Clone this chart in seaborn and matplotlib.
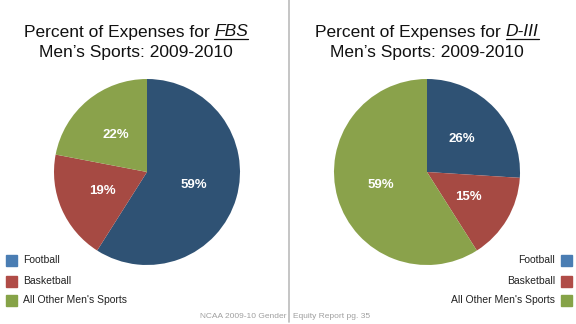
import matplotlib
matplotlib.use("Agg")
import matplotlib.pyplot as plt
from matplotlib.patches import Rectangle
from matplotlib.lines import Line2D
import seaborn as sns

sns.set_theme(style="white")
plt.rcParams['font.family'] = ['Liberation Sans', 'DejaVu Sans']

categories = ["Football", "Basketball", "All Other Men\u2019s Sports"]
legend_labels = ["Football", "Basketball", "All Other Men's Sports"]
fbs_values = [59, 19, 22]
d3_values = [26, 15, 59]
pie_colors = ["#2F5274", "#A64A43", "#8AA24B"]
legend_colors = ["#4A7DB3", "#B04C47", "#86A348"]

W, H = 576, 324
fig = plt.figure(figsize=(5.76, 3.24), dpi=100)
fig.patch.set_facecolor("white")

R = 93
def make_pie(cx, cy, values):
    ax = fig.add_axes([(cx - R) / W, (H - cy - R) / H, 2 * R / W, 2 * R / H])
    ax.pie(values, colors=pie_colors, startangle=90, counterclock=False,
           autopct=lambda p: f"{p:.0f}%", pctdistance=0.52,
           wedgeprops=dict(linewidth=0),
           textprops=dict(color="white", fontsize=9.5, fontweight="bold"))
    ax.set_xlim(-1, 1)
    ax.set_ylim(-1, 1)
    ax.set_aspect("equal")
    ax.axis("off")
    return ax

make_pie(147, 172, fbs_values)
make_pie(427, 172, d3_values)

renderer = fig.canvas.get_renderer()
TFS = 12.5

def width_of(s, style="normal"):
    t = fig.text(0, 0, s, fontsize=TFS, style=style)
    w = t.get_window_extent(renderer).width
    t.remove()
    return w

def title(cx, italic_word):
    part1 = "Percent of Expenses for"
    sp = width_of("a b") - width_of("ab")
    w1 = width_of(part1) + sp
    w2 = width_of(italic_word, "italic")
    x0 = cx - (w1 + w2) / 2
    y1 = 32
    fig.text(x0 / W, 1 - y1 / H, part1, fontsize=TFS, ha="left", va="center", color="#111111")
    fig.text((x0 + w1) / W, 1 - y1 / H, italic_word, fontsize=TFS, style="italic",
             ha="left", va="center", color="#111111")
    fig.add_artist(Line2D([(x0 + w1) / W, (x0 + w1 + w2) / W], [1 - 38.5 / H] * 2,
                          color="#111111", lw=0.9))
    fig.text(cx / W, 1 - 53 / H, "Men\u2019s Sports: 2009-2010", fontsize=TFS,
             ha="center", va="center", color="#111111")

title(136, "FBS")
title(427, "D-III")

# divider
fig.add_artist(Line2D([289 / W, 289 / W], [1.0, 1 - 322 / H], color="#BBBBBB", lw=1.2))

# legends
ys = [260, 281, 300]
for lab, col, y in zip(legend_labels, legend_colors, ys):
    fig.add_artist(Rectangle((6 / W, 1 - (y + 5.5) / H), 11 / W, 11 / H, color=col,
                             transform=fig.transFigure))
    fig.text(23 / W, 1 - y / H, lab, fontsize=7.5, ha="left", va="center",
             color="#222222")
    fig.add_artist(Rectangle((561 / W, 1 - (y + 5.5) / H), 11 / W, 11 / H, color=col,
                             transform=fig.transFigure))
    fig.text(555 / W, 1 - y / H, lab, fontsize=7.5, ha="right", va="center",
             color="#222222")

# footer
fig.text(286 / W, 1 - 317 / H, "NCAA 2009-10 Gender", fontsize=6, ha="right",
         va="center", color="#A0A0A0")
fig.text(293 / W, 1 - 317 / H, "Equity Report pg. 35", fontsize=6, ha="left",
         va="center", color="#A0A0A0")

fig.savefig("out.png", dpi=100, facecolor="white")
